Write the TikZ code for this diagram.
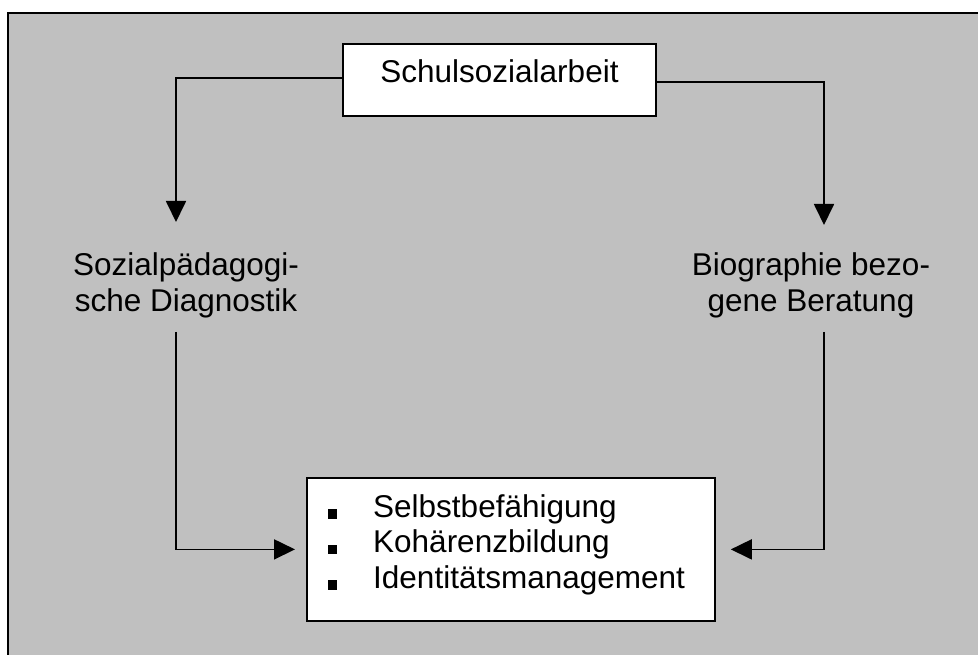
\documentclass[tikz,border=0pt]{standalone}
\usepackage{fontspec}
\setmainfont{Liberation Sans}
\usetikzlibrary{arrows.meta}
\definecolor{panelgray}{HTML}{C0C0C0}
\newcommand{\sqbullet}{\raisebox{-1.5pt}{\rule{9pt}{9.5pt}}}
\begin{document}
\begin{tikzpicture}[x=1pt,y=-1pt,
    every node/.style={font=\fontsize{31.5}{36}\selectfont},
    box/.style={draw=black, line width=1.8pt, fill=white, inner sep=0pt},
    label/.style={align=center, inner sep=0pt},
    item/.style={anchor=base west, inner sep=0pt},
    conn/.style={line width=1.8pt, -{Triangle[width=20pt,length=21pt]}}]
  \useasboundingbox (0,0) rectangle (978,655);
  % grey panel, framed at top and left
  \fill[panelgray] (8,13) rectangle (978,655);
  \draw[line width=1.8pt] (8,655) -- (8,13) -- (978,13);

  % top box
  \node[box, anchor=base, minimum width=313pt, text height=39pt, text depth=33pt]
    (top) at (499.5,83) {Schulsozialarbeit};

  % side labels
  \node[label] (diag) at (186,285) {Sozialpädagogi-\\sche Diagnostik};
  \node[label] (bera) at (811,285) {Biographie bezo-\\gene Beratung};

  % bottom box with its list
  \node[box, anchor=north west, minimum width=408pt, minimum height=143pt]
    (goals) at (306,477) {};
  \node[item] (item1) at (328,517) {\sqbullet\hspace{36pt}Selbstbefähigung};
  \node[item] (item2) at (328,552.5) {\sqbullet\hspace{36pt}Kohärenzbildung};
  \node[item] (item3) at (328,588) {\sqbullet\hspace{36pt}Identitätsmanagement};

  % connector end points
  \coordinate (diagIn) at (176,222);
  \coordinate (beraIn) at (824,225);
  \coordinate (diagOut) at (176,332);
  \coordinate (beraOut) at (824,332);

  % connectors
  \draw[conn] ([yshift=2pt]top.west) -| (diagIn);
  \draw[conn] ([yshift=-2pt]top.east) -| (beraIn);
  \draw[conn] (diagOut) |- ([xshift=-11pt]goals.west);
  \draw[conn] (beraOut) |- ([xshift=15pt]goals.east);
\end{tikzpicture}
\end{document}
